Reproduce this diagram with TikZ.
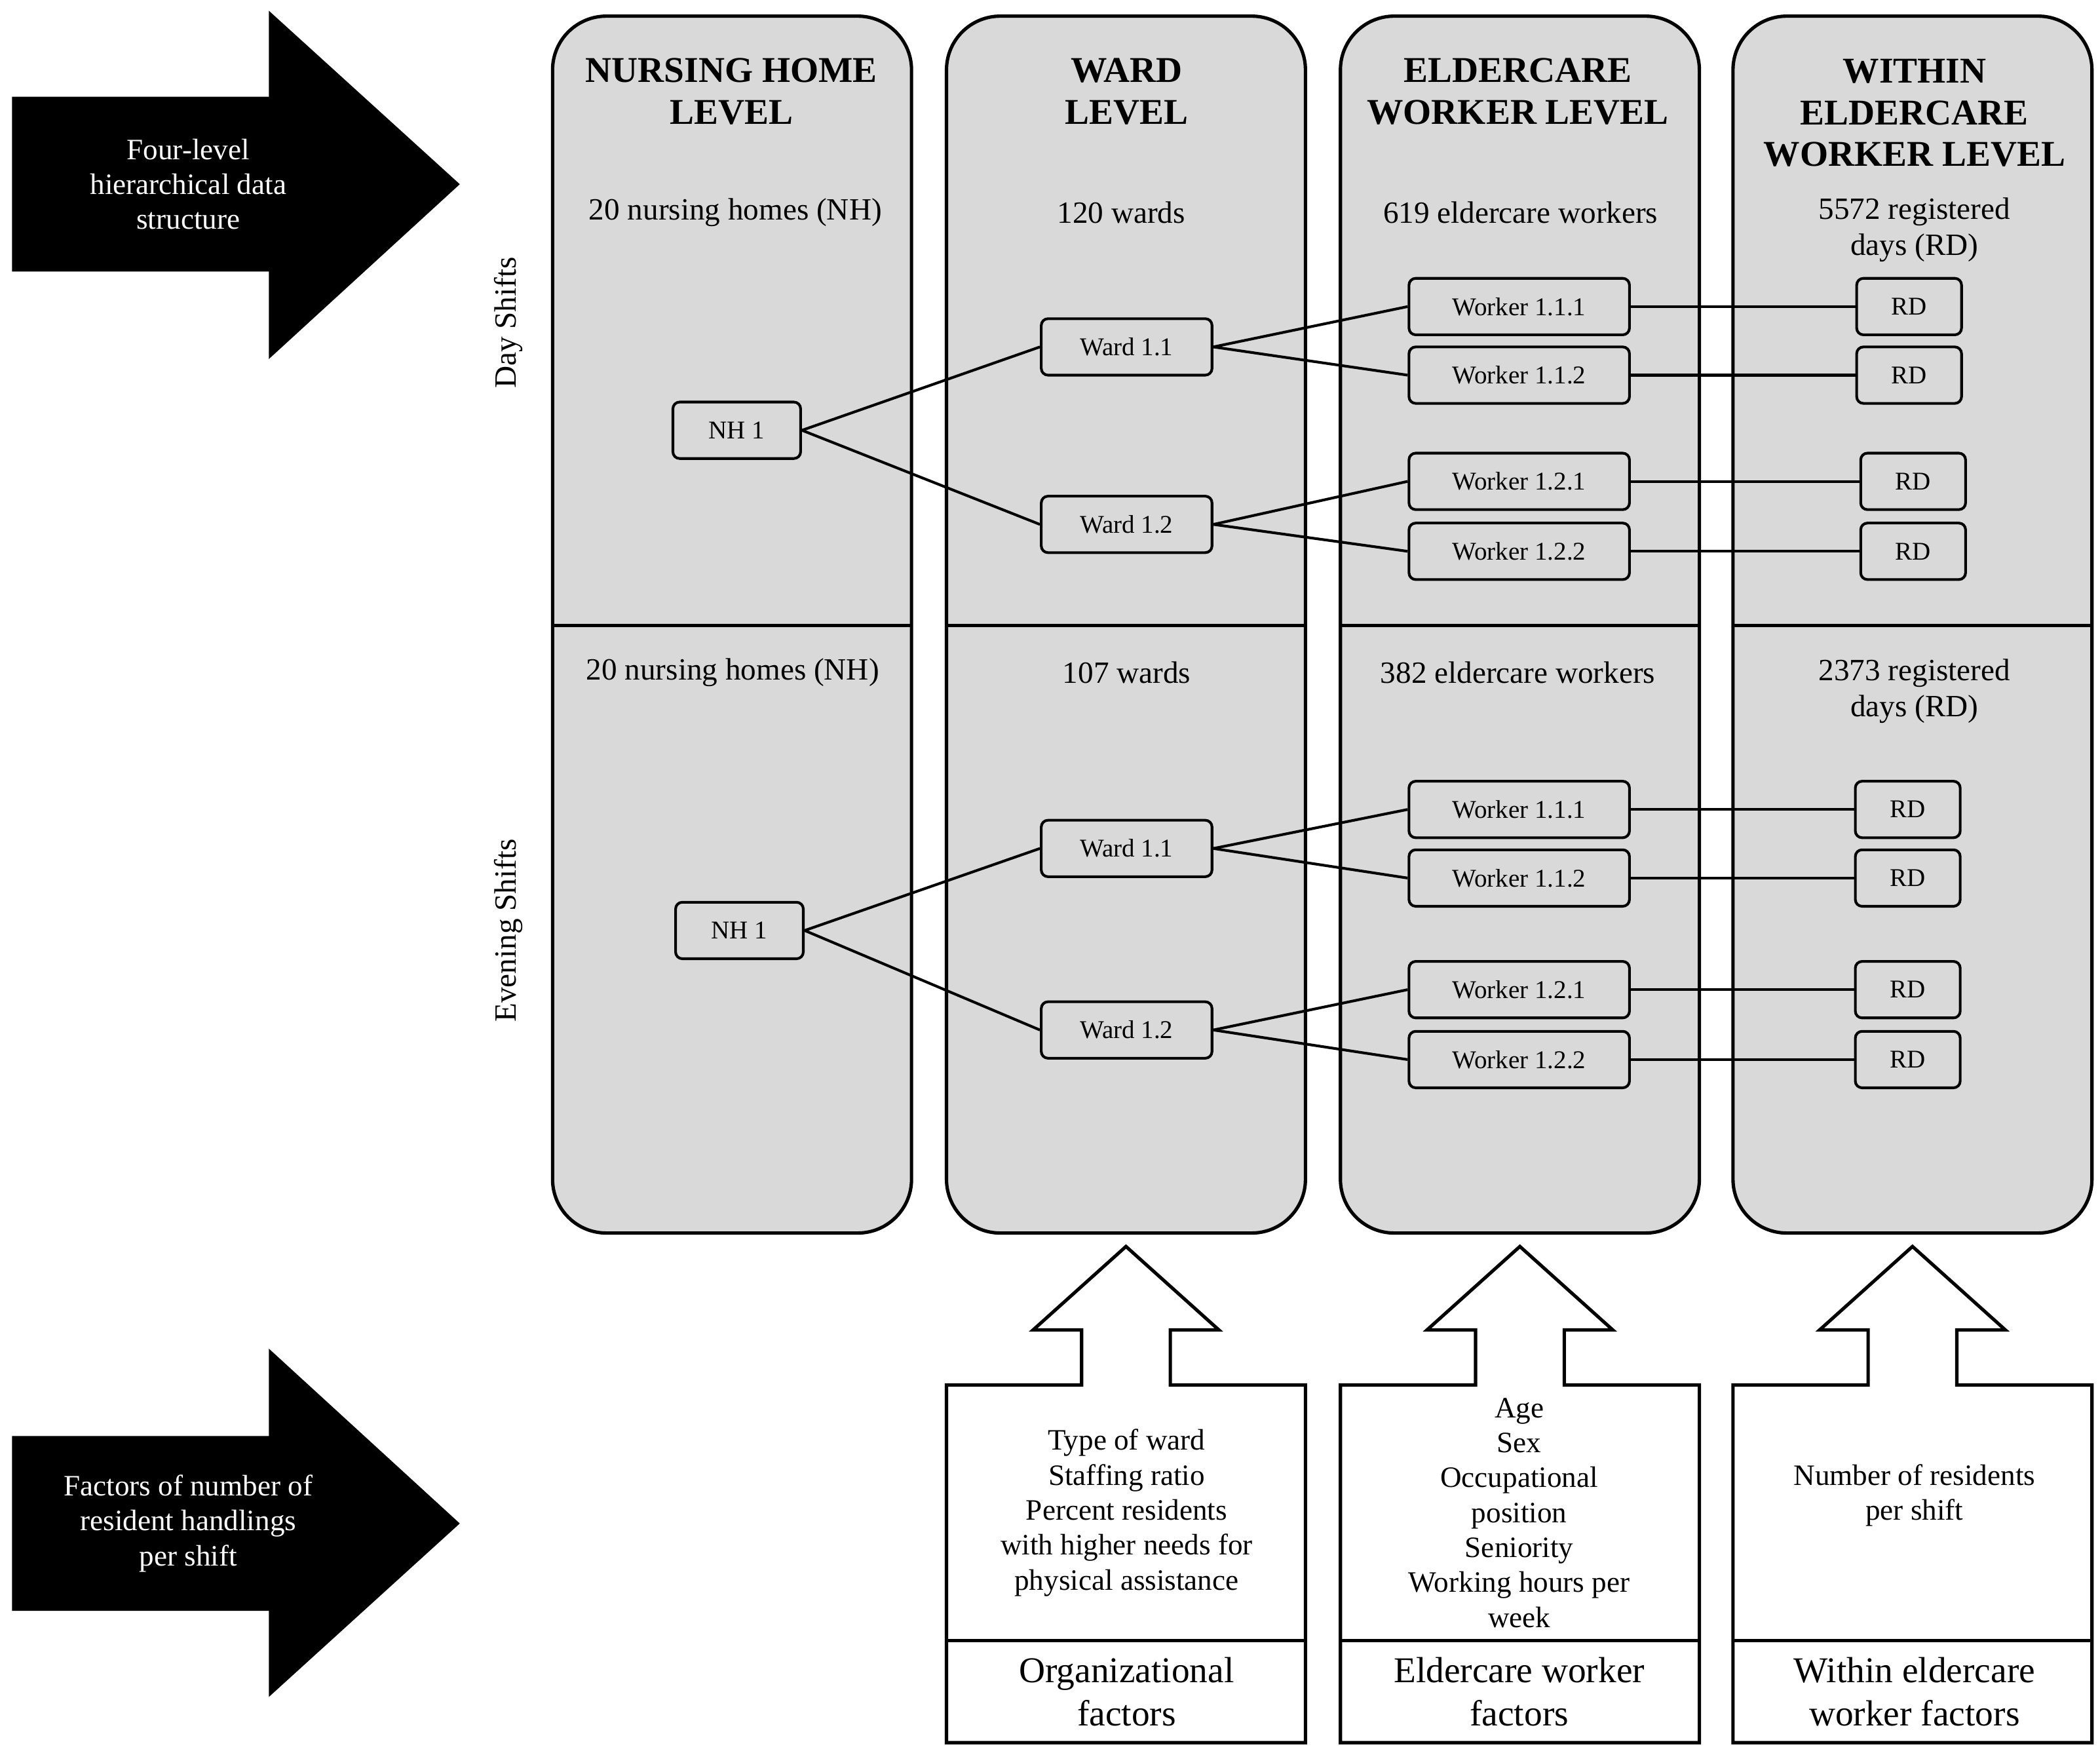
\documentclass[tikz,border=0pt]{standalone}
\usepackage{fontspec}
\setmainfont{Liberation Serif}
\begin{document}
\begin{tikzpicture}[x=1pt,y=-1pt,
  col/.style={draw,line width=2.5pt,fill=black!15,rounded corners=40pt},
  bx/.style={draw,line width=2pt,rounded corners=5pt,fill=black!15,minimum height=42pt,font=\fontsize{19}{22}\selectfont,inner sep=0pt},
  hd/.style={align=center,font=\fontsize{27}{31}\selectfont\bfseries},
  ct/.style={align=center,font=\fontsize{23}{27}\selectfont},
  ln/.style={line width=2pt},
  ft/.style={align=center,font=\fontsize{22}{26}\selectfont},
  fh/.style={align=center,font=\fontsize{27}{32}\selectfont}]
\useasboundingbox (0,0) rectangle (1562,1302);
\foreach \x in {411,704,997,1289}{
  \draw[col] (\x,12) rectangle (\x+267,917);
  \draw[line width=2.5pt] (\x,465) -- (\x+267,465);
}
\node[hd] (h1) at (544,68) {NURSING HOME\\LEVEL};
\node[hd] (h2) at (838,68) {WARD\\LEVEL};
\node[hd] (h3) at (1129,68) {ELDERCARE\\WORKER LEVEL};
\node[hd] (h4) at (1424,84) {WITHIN\\ELDERCARE\\WORKER LEVEL};
\node[ct] (c1) at (547,158) {20 nursing homes (NH)};
\node[ct] (c2) at (834,158) {120 wards};
\node[ct] (c3) at (1131,158) {619 eldercare workers};
\node[ct] (c4) at (1424,171) {5572 registered\\days (RD)};
\node[ct] (e1) at (545,500) {20 nursing homes (NH)};
\node[ct] (e2) at (838,500) {107 wards};
\node[ct] (e3) at (1129,500) {382 eldercare workers};
\node[ct] (e4) at (1424,514) {2373 registered\\days (RD)};
\node[ct,rotate=90] (ds) at (378,240) {Day Shifts};
\node[ct,rotate=90] (es) at (378,692) {Evening Shifts};
\node[bx,minimum width=95pt] (n1) at (548,320) {NH 1};
\node[bx,minimum width=127pt] (w11) at (838,258) {Ward 1.1};
\node[bx,minimum width=127pt] (w12) at (838,390) {Ward 1.2};
\node[bx,minimum width=164pt] (k111) at (1130,228) {Worker 1.1.1};
\node[bx,minimum width=164pt] (k112) at (1130,279) {Worker 1.1.2};
\node[bx,minimum width=164pt] (k121) at (1130,358) {Worker 1.2.1};
\node[bx,minimum width=164pt] (k122) at (1130,410) {Worker 1.2.2};
\node[bx,minimum width=78pt] (r1) at (1420,228) {RD};
\node[bx,minimum width=78pt] (r2) at (1420,279) {RD};
\node[bx,minimum width=78pt] (r3) at (1423,358) {RD};
\node[bx,minimum width=78pt] (r4) at (1423,410) {RD};
\draw[ln] (n1.east) -- (w11.west); \draw[ln] (n1.east) -- (w12.west);
\draw[ln] (w11.east) -- (k111.west); \draw[ln] (w11.east) -- (k112.west);
\draw[ln] (w12.east) -- (k121.west); \draw[ln] (w12.east) -- (k122.west);
\draw[ln] (k111) -- (r1); \draw[ln] (k112) -- (r2);
\draw[ln] (k121) -- (r3); \draw[ln] (k122) -- (r4);
\node[bx,minimum width=95pt] (m1) at (550,692) {NH 1};
\node[bx,minimum width=127pt] (v11) at (838,631) {Ward 1.1};
\node[bx,minimum width=127pt] (v12) at (838,766) {Ward 1.2};
\node[bx,minimum width=164pt] (j111) at (1130,602) {Worker 1.1.1};
\node[bx,minimum width=164pt] (j112) at (1130,653) {Worker 1.1.2};
\node[bx,minimum width=164pt] (j121) at (1130,736) {Worker 1.2.1};
\node[bx,minimum width=164pt] (j122) at (1130,788) {Worker 1.2.2};
\node[bx,minimum width=78pt] (s1) at (1419,602) {RD};
\node[bx,minimum width=78pt] (s2) at (1419,653) {RD};
\node[bx,minimum width=78pt] (s3) at (1419,736) {RD};
\node[bx,minimum width=78pt] (s4) at (1419,788) {RD};
\draw[ln] (m1.east) -- (v11.west); \draw[ln] (m1.east) -- (v12.west);
\draw[ln] (v11.east) -- (j111.west); \draw[ln] (v11.east) -- (j112.west);
\draw[ln] (v12.east) -- (j121.west); \draw[ln] (v12.east) -- (j122.west);
\draw[ln] (j111) -- (s1); \draw[ln] (j112) -- (s2);
\draw[ln] (j121) -- (s3); \draw[ln] (j122) -- (s4);
\fill (9,72) -- (200,72) -- (200,8) -- (342,137) -- (200,267) -- (200,202) -- (9,202) -- cycle;
\node[ct,text=white,font=\fontsize{22}{26}\selectfont] (a1) at (140,137) {Four-level\\hierarchical data\\structure};
\fill (9,1068) -- (200,1068) -- (200,1003) -- (342,1133) -- (200,1262) -- (200,1198) -- (9,1198) -- cycle;
\node[ct,text=white,font=\fontsize{22}{26}\selectfont] (a2) at (140,1133) {Factors of number of\\resident handlings\\per shift};
\foreach \x in {704,997,1289}{
  \pgfmathsetmacro{\c}{\x+133.5}
  \draw[line width=2.5pt,line join=miter] (\x,1296) -- (\x,1030) -- (\c-33,1030) -- (\c-33,989) -- (\c-69,989) -- (\c,927) -- (\c+69,989) -- (\c+33,989) -- (\c+33,1030) -- (\x+267,1030) -- (\x+267,1296) -- cycle;
  \draw[line width=2.5pt] (\x,1220) -- (\x+267,1220);
}
\node[ft] (f1) at (838,1125) {Type of ward\\Staffing ratio\\Percent residents\\with higher needs for\\physical assistance};
\node[ft] (f2) at (1130,1125) {Age\\Sex\\Occupational\\position\\Seniority\\Working hours per\\week};
\node[ft] (f3) at (1424,1112) {Number of residents\\per shift};
\node[fh] (g1) at (838,1258) {Organizational\\factors};
\node[fh] (g2) at (1130,1258) {Eldercare worker\\factors};
\node[fh] (g3) at (1424,1258) {Within eldercare\\worker factors};
\end{tikzpicture}
\end{document}
